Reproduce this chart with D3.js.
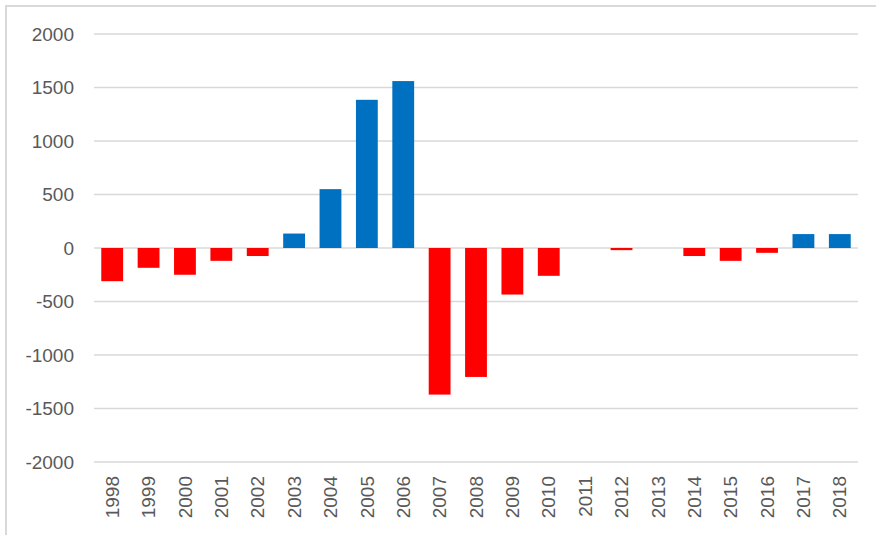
<!DOCTYPE html>
<meta charset="utf-8">
<html>
<head>
	<script src="https://cdn.jsdelivr.net/npm/d3@7"></script>
	<style>
		body { margin: 0; background: #fff; }
		.tick text { font-family: "Liberation Sans", Arial, sans-serif; font-size: 19px; fill: #595959; }
	</style>
</head>
<body>
	<svg id="chart"></svg>
	<script>
	var years = ["1998","1999","2000","2001","2002","2003","2004","2005","2006","2007","2008",
		"2009","2010","2011","2012","2013","2014","2015","2016","2017","2018"];
	var values = [-310,-185,-250,-120,-75,135,550,1385,1560,-1370,-1205,
		-435,-260,0,-20,0,-75,-120,-45,130,130];
	var yTicks = [-2000,-1500,-1000,-500,0,500,1000,1500,2000];

	var svgWidth = 876;
	var svgHeight = 535;

	var margin = {top: 34, right: 18, bottom: 73, left: 94},
		graphWidth = svgWidth - margin.left - margin.right,
		graphHeight = svgHeight - margin.top - margin.bottom;

	var svg = d3.select("#chart")
		.attr("width", svgWidth)
		.attr("height", svgHeight);

	// outer frame (cut off at right and bottom like the screenshot)
	svg.append("rect")
		.attr("x", 6).attr("y", 6)
		.attr("width", svgWidth + 10).attr("height", svgHeight + 10)
		.attr("fill", "none")
		.attr("stroke", "#d9d9d9")
		.attr("stroke-width", 2);

	var g = svg.append("g")
		.attr("transform", "translate(" + margin.left + "," + margin.top + ")");

	var x = d3.scaleBand()
		.domain(years)
		.range([0, graphWidth])
		.paddingInner(0.4)
		.paddingOuter(0.2);

	var y = d3.scaleLinear()
		.domain([-2000, 2000])
		.range([graphHeight, 0]);

	// gridlines
	g.append("g")
		.selectAll("line")
		.data(yTicks)
		.enter()
		.append("line")
			.attr("x1", 0)
			.attr("x2", graphWidth)
			.attr("y1", function(d) { return y(d); })
			.attr("y2", function(d) { return y(d); })
			.attr("stroke", "#d9d9d9")
			.attr("stroke-width", 1.5);

	// y axis labels, plain hyphen minus and no thousands separator
	var yAxis = g.append("g")
		.call(d3.axisLeft(y).tickValues(yTicks).tickFormat(function(d) { return String(d); })
			.tickSize(0).tickPadding(20));
	yAxis.select(".domain").remove();

	// bars
	g.append("g")
		.selectAll("rect")
		.data(values)
		.enter()
		.append("rect")
			.attr("x", function(d, i) { return x(years[i]); })
			.attr("width", x.bandwidth())
			.attr("y", function(d) { return y(Math.max(0, d)); })
			.attr("height", function(d) { return Math.abs(y(d) - y(0)); })
			.attr("fill", function(d) { return d > 0 ? "#0070c0" : "#ff0000"; });

	// x axis labels, rotated
	var xAxis = g.append("g")
		.attr("transform", "translate(0," + graphHeight + ")")
		.call(d3.axisBottom(x).tickSize(0));
	xAxis.select(".domain").remove();
	xAxis.selectAll("text")
		.attr("transform", "rotate(-90)")
		.attr("text-anchor", "end")
		.attr("x", -14)
		.attr("y", 0)
		.attr("dy", "0.35em");
	</script>
</body>
</html>
